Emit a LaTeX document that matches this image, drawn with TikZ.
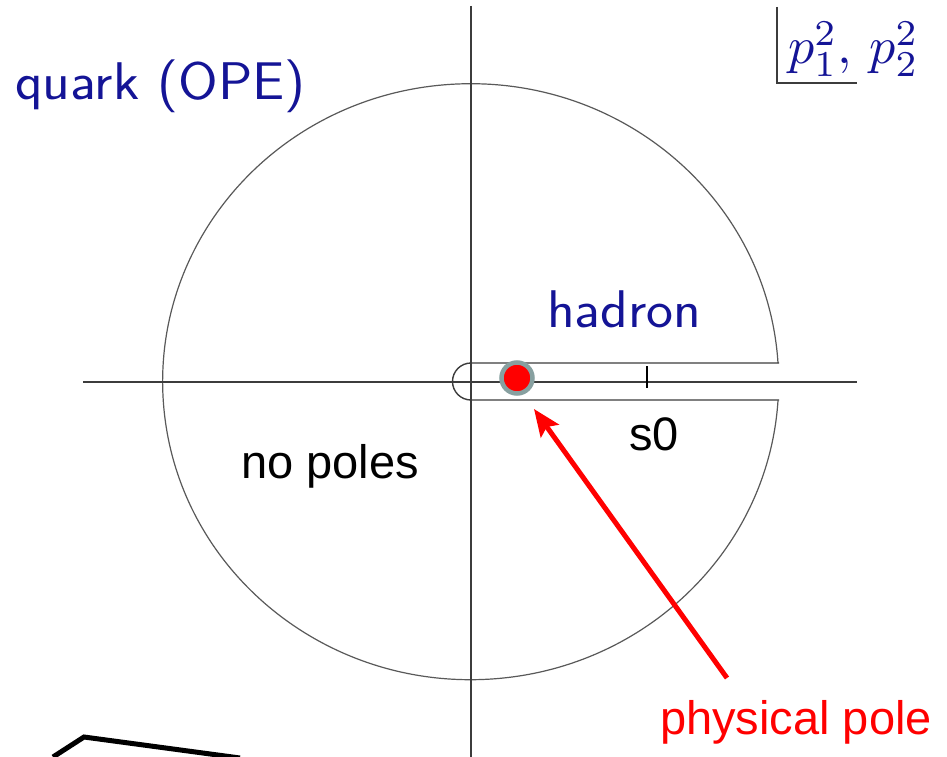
\documentclass[tikz,border=0pt]{standalone}
\usepackage{graphicx}
\usepackage{fontspec}
\usetikzlibrary{arrows.meta}
\newfontfamily\arialfont{Liberation Sans}
\newcommand\widetext[1]{\scalebox{1.08}[1]{#1}}
\definecolor{beamerblue}{RGB}{20,20,150}
\definecolor{linegray}{RGB}{60,60,60}
\definecolor{ringgray}{RGB}{135,160,160}
\begin{document}
\begin{tikzpicture}[x=1pt,y=-1pt,
  axis/.style={draw=linegray,line width=1.4pt},
  thin/.style={draw=linegray!85,line width=1.2pt},
  bluetext/.style={text=beamerblue,font=\sffamily\fontsize{53}{53}\selectfont,inner sep=0pt,anchor=base west},
  arialtext/.style={font=\arialfont\fontsize{47}{47}\selectfont,inner sep=0pt,anchor=base west}]
\useasboundingbox (0,0) rectangle (947,757);
\clip (0,0) rectangle (947,757);
\fill[white] (0,0) rectangle (947,757);
% coordinates
\coordinate (O) at (471,382);
\coordinate (xl) at (83,382);
\coordinate (xr) at (857,382);
\coordinate (yt) at (471,6);
\coordinate (yb) at (471,757);
% circle (open at the cut)
\draw[thin] (778,363) arc[start angle=-3.6,end angle=-356.4,x radius=308,y radius=298];
% axes
\draw[axis] (xl) -- (xr);
\draw[axis] (yt) -- (yb);
% cut
\coordinate (cu) at (779,363);
\coordinate (cl) at (779,400);
\draw[axis] (cu) -- (471,363) arc[start angle=-90,end angle=-270,radius=18.5] -- (cl);
% tick s0
\coordinate (tk1) at (647,366);
\coordinate (tk2) at (647,388);
\draw[draw=black,line width=1.6pt] (tk1) -- (tk2);
% pole
\node[circle,fill=red,draw=ringgray,line width=4.5pt,minimum size=31pt,inner sep=0pt] (pole) at (517,378) {};
% labels
\node[bluetext] (quark) at (15,100) {\widetext{quark (OPE)}};
\node[bluetext] (hadron) at (547,327) {\widetext{hadron}};
\node[arialtext] (nopoles) at (241,478) {no poles};
\node[arialtext] (s0) at (629,450) {s0};
\node[arialtext,text=red] (phys) at (660,734) {physical pole};
% arrow
\coordinate (tail) at (727,678);
\coordinate (tip) at (534,409);
\draw[red,line width=5pt,-{Stealth[length=27pt,width=22pt,inset=5pt]}] (tail) -- (tip);
% top right label
\coordinate (boxtop) at (777,7);
\coordinate (boxcorner) at (777,83);
\coordinate (boxright) at (857,83);
\draw[draw=linegray,line width=1.6pt] (boxtop) -- (boxcorner) -- (boxright);
\node[text=beamerblue,inner sep=0pt,anchor=base west] (plabel) at (788,64) {\scalebox{5.2}{$p_1^2,\,p_2^2$}};
% bottom-left fragment
\coordinate (f1) at (53,757);
\coordinate (f2) at (84,737);
\coordinate (f3) at (240,758);
\draw[black,line width=5pt,line join=miter] (f1) -- (f2) -- (f3);
\end{tikzpicture}
\end{document}
